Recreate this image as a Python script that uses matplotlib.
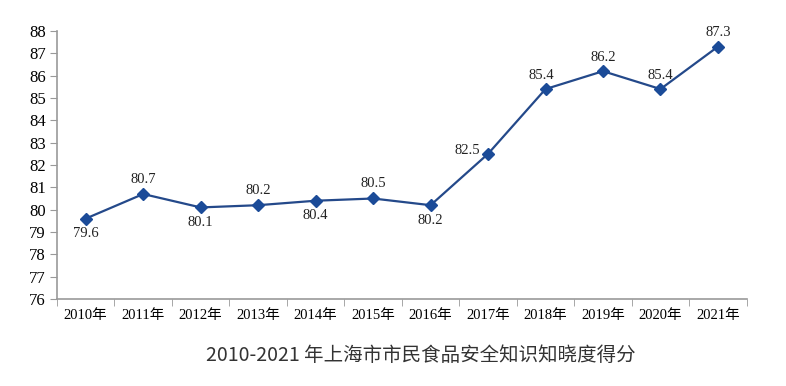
import matplotlib.pyplot as plt

# Data
years = ['2010年', '2011年', '2012年', '2013年', '2014年', '2015年',
         '2016年', '2017年', '2018年', '2019年', '2020年', '2021年']
scores = [79.6, 80.7, 80.1, 80.2, 80.4, 80.5, 80.2, 82.5, 85.4, 86.2, 85.4, 87.3]
# label placement per point: (dx, dy) in pixels, horizontal alignment
label_pos = [(0, -15, 'center'), (0, 15, 'center'), (0, -15, 'center'),
             (0, 15, 'center'), (0, -15, 'center'), (0, 15, 'center'),
             (0, -15, 'center'), (-8, 3, 'right'), (-4, 14, 'center'),
             (0, 14, 'center'), (0, 14, 'center'), (0, 14, 'center')]
title = '2010-2021 年上海市市民食品安全知识知晓度得分'

serif = ['Liberation Serif', 'Noto Sans CJK SC']
plt.rcParams['font.family'] = serif

fig = plt.figure(figsize=(7.86, 3.86), dpi=100)
ax = fig.add_axes([0.0725, 0.2254, 0.8775, 0.6943])

x = list(range(len(years)))
ax.plot(x, scores, color='#24498a', linewidth=1.6, marker='D', markersize=6,
        markerfacecolor='#1b4b98', markeredgecolor='#1b4b98', zorder=3)

for xi, yi, (dx, dy, ha) in zip(x, scores, label_pos):
    ax.annotate(f'{yi}', (xi, yi), xytext=(dx, dy), textcoords='offset pixels',
                ha=ha, va='center', fontsize=10.5, color='#222222')

ax.set_ylim(76, 88)
ax.set_yticks(range(76, 89))
ax.set_xlim(-0.5, len(years) - 0.5)
ax.set_xticks(x)
ax.set_xticklabels(years, fontsize=10.5, family=serif)
ax.set_xticks([i - 0.5 for i in range(len(years) + 1)], minor=True)
ax.tick_params(axis='x', which='major', length=0, pad=7)
ax.tick_params(axis='x', which='minor', length=5, color='#999999')
ax.tick_params(axis='y', length=5, color='#999999', labelsize=12, pad=3)

for s in ['top', 'right']:
    ax.spines[s].set_visible(False)
for s in ['left', 'bottom']:
    ax.spines[s].set_color('#999999')
    ax.spines[s].set_linewidth(1.2)

fig.text(0.536, 0.08, title, ha='center', va='center', fontsize=14,
         family=['Noto Sans CJK SC', 'DejaVu Sans'], color='#333333')

fig.savefig('out.png', dpi=100)
